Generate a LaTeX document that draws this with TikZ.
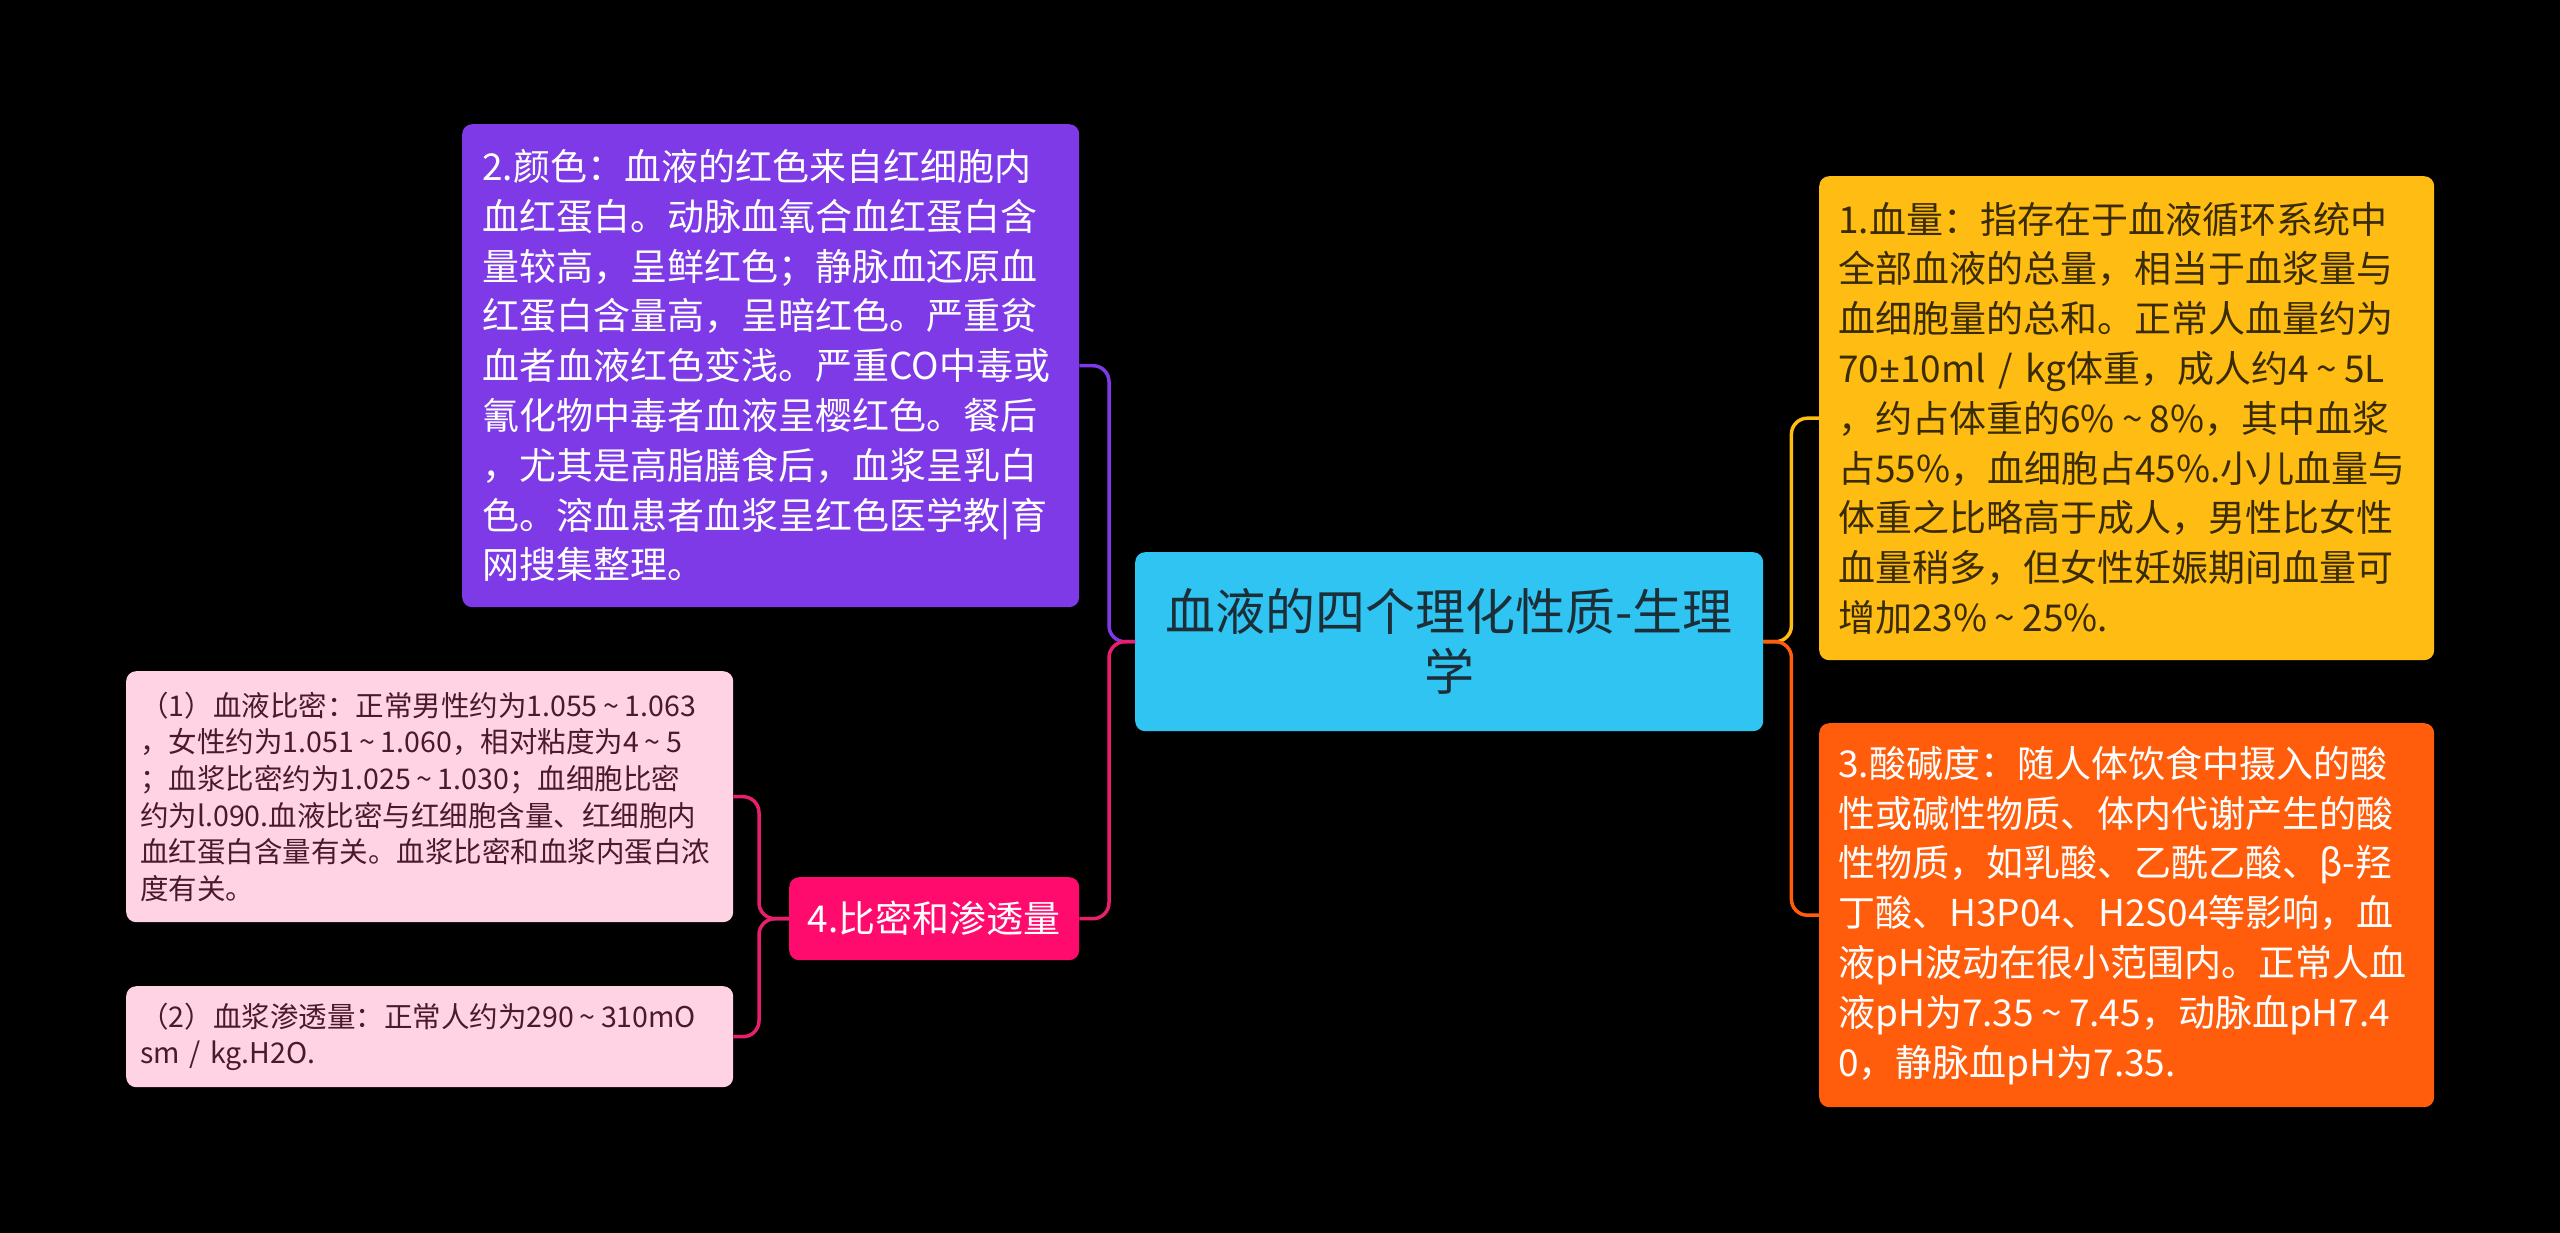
\documentclass[tikz,border=0pt]{standalone}
\usepackage{fontspec}
\setmainfont{Noto Sans CJK SC}
\newfontfamily\latinfont{Noto Sans}
\newcommand\tld{\makebox[0.95em][c]{\textasciitilde}}
\newcommand\pmx{{\latinfont ±}}
\definecolor{cCenter}{HTML}{2FC4F2}
\definecolor{cCenterTxt}{HTML}{1C2F38}
\definecolor{cPurple}{HTML}{7D3AE6}
\definecolor{cYellow}{HTML}{FFBD14}
\definecolor{cYellowTxt}{HTML}{3A2C00}
\definecolor{cOrange}{HTML}{FF5C0B}
\definecolor{cPink}{HTML}{FF0B6E}
\definecolor{cPinkLine}{HTML}{E8206C}
\definecolor{cSub}{HTML}{FFD3E3}
\definecolor{cSubTxt}{HTML}{4A1A2C}
\begin{document}
\begin{tikzpicture}[x=1pt,y=-1pt,
  box/.style={rounded corners=10pt, inner ysep=0pt, anchor=north west, align=left},
  bigtxt/.style={font=\fontsize{37}{49.8}\selectfont},
  smalltxt/.style={font=\fontsize{28.5}{36.6}\selectfont},
  conn/.style={line width=3.5pt, rounded corners=16pt}
]
\fill[black] (0,0) rectangle (2560,1233);
\useasboundingbox (0,0) rectangle (2560,1233);

% central
\node[box, align=center, fill=cCenter, text=cCenterTxt, inner xsep=14pt, text width=600pt, minimum height=179pt,
  font=\fontsize{50}{60}\selectfont] (c) at (1135,552) {血液的四个理化性质-生理\\学};

% node 2 purple
\node[box, bigtxt, fill=cPurple, text=white, inner xsep=20pt, text width=577pt, minimum height=483pt] (n2) at (462,124)
{2.颜色：血液的红色来自红细胞内\\
血红蛋白。动脉血氧合血红蛋白含\\
量较高，呈鲜红色；静脉血还原血\\
红蛋白含量高，呈暗红色。严重贫\\
血者血液红色变浅。严重CO中毒或\\
氰化物中毒者血液呈樱红色。餐后\\
，尤其是高脂膳食后，血浆呈乳白\\
色。溶血患者血浆呈红色医学教|育\\
网搜集整理。};

% node 1 yellow
\node[box, bigtxt, fill=cYellow, text=cYellowTxt, inner xsep=19pt, text width=577pt, minimum height=484pt] (n1) at (1819,176)
{1.血量：指存在于血液循环系统中\\
全部血液的总量，相当于血浆量与\\
血细胞量的总和。正常人血量约为\\
70\pmx10ml / kg体重，成人约4\tld5L\\
，约占体重的6\%\tld8\%，其中血浆\\
占55\%，血细胞占45\%.小儿血量与\\
体重之比略高于成人，男性比女性\\
血量稍多，但女性妊娠期间血量可\\
增加23\%\tld25\%.};

% node 3 orange
\node[box, bigtxt, fill=cOrange, text=white, inner xsep=19pt, text width=577pt, minimum height=384pt] (n3) at (1819,723)
{3.酸碱度：随人体饮食中摄入的酸\\
性或碱性物质、体内代谢产生的酸\\
性物质，如乳酸、乙酰乙酸、β-羟\\
丁酸、H3P04、H2S04等影响，血\\
液pH波动在很小范围内。正常人血\\
液pH为7.35\tld7.45，动脉血pH7.4\\
0，静脉血pH为7.35.};

% node 4 pink
\node[box, bigtxt, align=center, fill=cPink, text=white, inner xsep=10pt, text width=270pt, minimum height=83pt] (n4) at (789,877)
{4.比密和渗透量};

% sub nodes
\node[box, smalltxt, fill=cSub, text=cSubTxt, inner xsep=14pt, text width=579pt, minimum height=251pt] (s1) at (126,671)
{（1）血液比密：正常男性约为1.055\tld1.063\\
，女性约为1.051\tld1.060，相对粘度为4\tld5\\
；血浆比密约为1.025\tld1.030；血细胞比密\\
约为l.090.血液比密与红细胞含量、红细胞内\\
血红蛋白含量有关。血浆比密和血浆内蛋白浓\\
度有关。};

\node[box, smalltxt, fill=cSub, text=cSubTxt, inner xsep=14pt, text width=579pt, minimum height=101pt] (s2) at (126,986)
{（2）血浆渗透量：正常人约为290\tld310mO\\
sm / kg.H2O.};

% connectors
\draw[conn, cYellow] (c.east) -- ++(28,0) |- (n1.west);
\draw[conn, cOrange] (c.east) -- ++(28,0) |- (n3.west);
\draw[conn, cPurple] (c.west) -- ++(-26,0) |- (n2.east);
\draw[conn, cPinkLine] (c.west) -- ++(-26,0) |- (n4.east);
\draw[conn, cPinkLine] (n4.west) -- ++(-30,0) |- (s1.east);
\draw[conn, cPinkLine] (n4.west) -- ++(-30,0) |- (s2.east);
\end{tikzpicture}
\end{document}
